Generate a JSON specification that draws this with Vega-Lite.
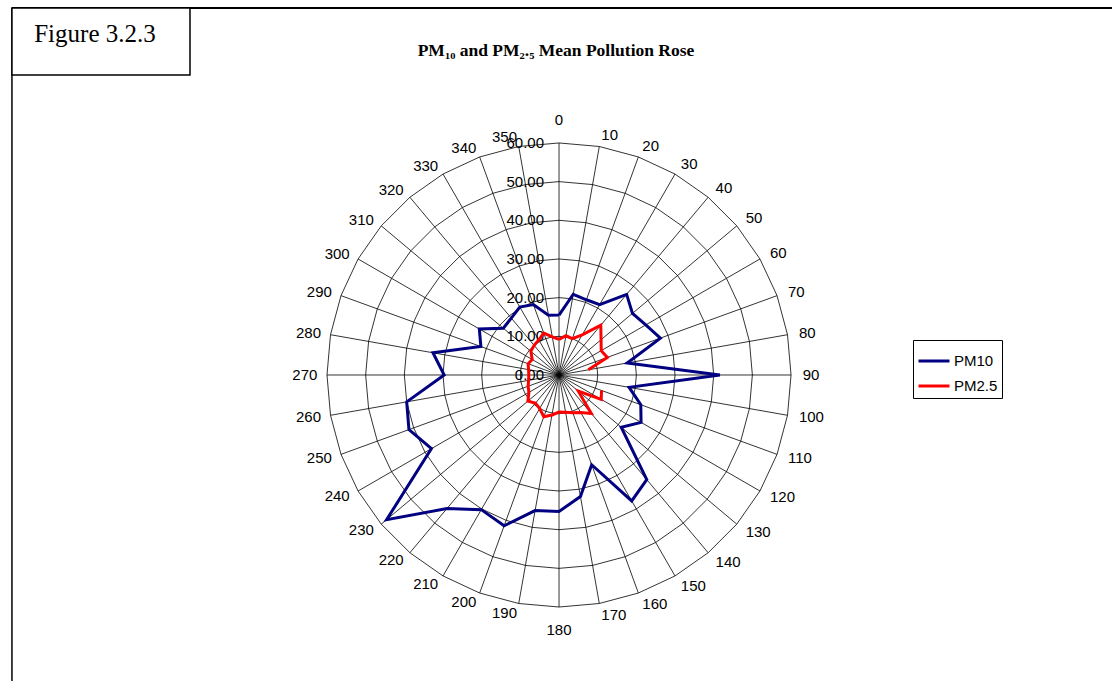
{
  "$schema": "https://vega.github.io/schema/vega-lite/v6.json",
  "width": 1112,
  "height": 681,
  "padding": 0,
  "autosize": {"type": "none"},
  "background": "white",
  "view": {"stroke": null},
  "title": {"text": "PM₁₀ and PM₂.₅ Mean Pollution Rose", "font": "Liberation Serif", "fontSize": 17.5, "fontWeight": "bold", "anchor": "middle", "offset": -59, "color": "black"},
  "config": {
    "legend": {"orient": "none", "legendX": 913, "legendY": 340, "title": null, "symbolType": "stroke", "symbolStrokeWidth": 3, "symbolSize": 961, "labelFont": "Liberation Sans", "labelFontSize": 15, "labelColor": "black", "strokeColor": "black", "fillColor": "white", "padding": 4, "rowPadding": 0, "labelOffset": 3}
  },
  "datasets": {
    "rose": [
      {"angle": 0, "pollutant": "PM10", "value": 15.5},
      {"angle": 10, "pollutant": "PM10", "value": 21.2},
      {"angle": 20, "pollutant": "PM10", "value": 20.7},
      {"angle": 30, "pollutant": "PM10", "value": 21.0},
      {"angle": 40, "pollutant": "PM10", "value": 27.2},
      {"angle": 50, "pollutant": "PM10", "value": 24.8},
      {"angle": 60, "pollutant": "PM10", "value": 25.9},
      {"angle": 70, "pollutant": "PM10", "value": 27.9},
      {"angle": 80, "pollutant": "PM10", "value": 17.9},
      {"angle": 90, "pollutant": "PM10", "value": 41.6},
      {"angle": 100, "pollutant": "PM10", "value": 18.4},
      {"angle": 110, "pollutant": "PM10", "value": 22.5},
      {"angle": 120, "pollutant": "PM10", "value": 24.5},
      {"angle": 130, "pollutant": "PM10", "value": 21.0},
      {"angle": 140, "pollutant": "PM10", "value": 35.3},
      {"angle": 150, "pollutant": "PM10", "value": 37.6},
      {"angle": 160, "pollutant": "PM10", "value": 24.7},
      {"angle": 170, "pollutant": "PM10", "value": 31.9},
      {"angle": 180, "pollutant": "PM10", "value": 35.3},
      {"angle": 190, "pollutant": "PM10", "value": 35.6},
      {"angle": 200, "pollutant": "PM10", "value": 41.5},
      {"angle": 210, "pollutant": "PM10", "value": 40.2},
      {"angle": 220, "pollutant": "PM10", "value": 45.1},
      {"angle": 230, "pollutant": "PM10", "value": 58.2},
      {"angle": 240, "pollutant": "PM10", "value": 38.1},
      {"angle": 250, "pollutant": "PM10", "value": 41.3},
      {"angle": 260, "pollutant": "PM10", "value": 40.0},
      {"angle": 270, "pollutant": "PM10", "value": 29.7},
      {"angle": 280, "pollutant": "PM10", "value": 33.1},
      {"angle": 290, "pollutant": "PM10", "value": 21.5},
      {"angle": 300, "pollutant": "PM10", "value": 23.8},
      {"angle": 310, "pollutant": "PM10", "value": 18.8},
      {"angle": 320, "pollutant": "PM10", "value": 19.2},
      {"angle": 330, "pollutant": "PM10", "value": 20.3},
      {"angle": 340, "pollutant": "PM10", "value": 19.4},
      {"angle": 350, "pollutant": "PM10", "value": 15.7},
      {"angle": 360, "pollutant": "PM10", "value": 15.5},
      {"angle": 0, "pollutant": "PM2.5", "value": 9.2},
      {"angle": 10, "pollutant": "PM2.5", "value": 10.3},
      {"angle": 20, "pollutant": "PM2.5", "value": 10.0},
      {"angle": 30, "pollutant": "PM2.5", "value": 12.0},
      {"angle": 40, "pollutant": "PM2.5", "value": 16.8},
      {"angle": 50, "pollutant": "PM2.5", "value": 14.2},
      {"angle": 60, "pollutant": "PM2.5", "value": 12.6},
      {"angle": 70, "pollutant": "PM2.5", "value": 13.3},
      {"angle": 80, "pollutant": "PM2.5", "value": 7.7},
      {"angle": 90, "pollutant": "PM2.5", "value": null},
      {"angle": 100, "pollutant": "PM2.5", "value": null},
      {"angle": 110, "pollutant": "PM2.5", "value": 11.7},
      {"angle": 120, "pollutant": "PM2.5", "value": 12.6},
      {"angle": 130, "pollutant": "PM2.5", "value": 6.5},
      {"angle": 140, "pollutant": "PM2.5", "value": 13.0},
      {"angle": 150, "pollutant": "PM2.5", "value": 11.2},
      {"angle": 160, "pollutant": "PM2.5", "value": 10.4},
      {"angle": 170, "pollutant": "PM2.5", "value": 9.8},
      {"angle": 180, "pollutant": "PM2.5", "value": 9.6},
      {"angle": 190, "pollutant": "PM2.5", "value": 10.5},
      {"angle": 200, "pollutant": "PM2.5", "value": 11.5},
      {"angle": 210, "pollutant": "PM2.5", "value": 10.0},
      {"angle": 220, "pollutant": "PM2.5", "value": 9.5},
      {"angle": 230, "pollutant": "PM2.5", "value": 10.5},
      {"angle": 240, "pollutant": "PM2.5", "value": 9.0},
      {"angle": 250, "pollutant": "PM2.5", "value": 8.5},
      {"angle": 260, "pollutant": "PM2.5", "value": 8.0},
      {"angle": 270, "pollutant": "PM2.5", "value": 7.8},
      {"angle": 280, "pollutant": "PM2.5", "value": 8.0},
      {"angle": 290, "pollutant": "PM2.5", "value": 8.5},
      {"angle": 300, "pollutant": "PM2.5", "value": 8.0},
      {"angle": 310, "pollutant": "PM2.5", "value": 9.5},
      {"angle": 320, "pollutant": "PM2.5", "value": 10.0},
      {"angle": 330, "pollutant": "PM2.5", "value": 10.5},
      {"angle": 340, "pollutant": "PM2.5", "value": 11.5},
      {"angle": 350, "pollutant": "PM2.5", "value": 10.0},
      {"angle": 360, "pollutant": "PM2.5", "value": 9.2}
    ],
    "rings": [
      {"ring": 10, "angles": [0,10,20,30,40,50,60,70,80,90,100,110,120,130,140,150,160,170,180,190,200,210,220,230,240,250,260,270,280,290,300,310,320,330,340,350,360]},
      {"ring": 20, "angles": [0,10,20,30,40,50,60,70,80,90,100,110,120,130,140,150,160,170,180,190,200,210,220,230,240,250,260,270,280,290,300,310,320,330,340,350,360]},
      {"ring": 30, "angles": [0,10,20,30,40,50,60,70,80,90,100,110,120,130,140,150,160,170,180,190,200,210,220,230,240,250,260,270,280,290,300,310,320,330,340,350,360]},
      {"ring": 40, "angles": [0,10,20,30,40,50,60,70,80,90,100,110,120,130,140,150,160,170,180,190,200,210,220,230,240,250,260,270,280,290,300,310,320,330,340,350,360]},
      {"ring": 50, "angles": [0,10,20,30,40,50,60,70,80,90,100,110,120,130,140,150,160,170,180,190,200,210,220,230,240,250,260,270,280,290,300,310,320,330,340,350,360]},
      {"ring": 60, "angles": [0,10,20,30,40,50,60,70,80,90,100,110,120,130,140,150,160,170,180,190,200,210,220,230,240,250,260,270,280,290,300,310,320,330,340,350,360]}
    ],
    "spokes": [
      {"angle": 0}, {"angle": 10}, {"angle": 20}, {"angle": 30}, {"angle": 40}, {"angle": 50},
      {"angle": 60}, {"angle": 70}, {"angle": 80}, {"angle": 90}, {"angle": 100}, {"angle": 110},
      {"angle": 120}, {"angle": 130}, {"angle": 140}, {"angle": 150}, {"angle": 160}, {"angle": 170},
      {"angle": 180}, {"angle": 190}, {"angle": 200}, {"angle": 210}, {"angle": 220}, {"angle": 230},
      {"angle": 240}, {"angle": 250}, {"angle": 260}, {"angle": 270}, {"angle": 280}, {"angle": 290},
      {"angle": 300}, {"angle": 310}, {"angle": 320}, {"angle": 330}, {"angle": 340}, {"angle": 350}
    ],
    "ticks": [
      {"ring": 0}, {"ring": 10}, {"ring": 20}, {"ring": 30}, {"ring": 40}, {"ring": 50}, {"ring": 60}
    ],
    "one": [{}]
  },
  "layer": [
    {
      "data": {"name": "rings"},
      "transform": [
        {"flatten": ["angles"], "as": ["angle"]},
        {"calculate": "datum.ring * sin(datum.angle * PI / 180)", "as": "x"},
        {"calculate": "datum.ring * cos(datum.angle * PI / 180)", "as": "y"}
      ],
      "mark": {"type": "line", "stroke": "black", "strokeWidth": 0.8},
      "encoding": {
        "x": {"field": "x", "type": "quantitative", "scale": {"domain": [-144.56, 143.0], "nice": false, "zero": false}, "axis": null},
        "y": {"field": "y", "type": "quantitative", "scale": {"domain": [-79.13, 96.97], "nice": false, "zero": false}, "axis": null},
        "detail": {"field": "ring"},
        "order": {"field": "angle", "type": "quantitative"}
      }
    },
    {
      "data": {"name": "spokes"},
      "transform": [
        {"calculate": "60 * sin(datum.angle * PI / 180)", "as": "xe"},
        {"calculate": "60 * cos(datum.angle * PI / 180)", "as": "ye"}
      ],
      "mark": {"type": "rule", "stroke": "black", "strokeWidth": 0.8},
      "encoding": {
        "x": {"field": "xe", "type": "quantitative", "scale": {"domain": [-144.56, 143.0], "nice": false, "zero": false}, "axis": null},
        "y": {"field": "ye", "type": "quantitative", "scale": {"domain": [-79.13, 96.97], "nice": false, "zero": false}, "axis": null},
        "x2": {"datum": 0},
        "y2": {"datum": 0}
      }
    },
    {
      "data": {"name": "ticks"},
      "mark": {"type": "text", "align": "right", "baseline": "middle", "dx": -15, "font": "Liberation Sans", "fontSize": 15, "color": "black"},
      "encoding": {
        "x": {"datum": 0, "type": "quantitative", "scale": {"domain": [-144.56, 143.0], "nice": false, "zero": false}, "axis": null},
        "y": {"field": "ring", "type": "quantitative", "scale": {"domain": [-79.13, 96.97], "nice": false, "zero": false}, "axis": null},
        "text": {"field": "ring", "type": "quantitative", "format": ".2f"}
      }
    },
    {
      "data": {"name": "spokes"},
      "transform": [
        {"filter": "datum.angle > 0 && datum.angle < 180"},
        {"calculate": "63 * sin(datum.angle * PI / 180)", "as": "x"},
        {"calculate": "63 * cos(datum.angle * PI / 180)", "as": "y"}
      ],
      "mark": {"type": "text", "align": "left", "baseline": "middle", "font": "Liberation Sans", "fontSize": 15, "color": "black"},
      "encoding": {
        "x": {"field": "x", "type": "quantitative", "scale": {"domain": [-144.56, 143.0], "nice": false, "zero": false}, "axis": null},
        "y": {"field": "y", "type": "quantitative", "scale": {"domain": [-79.13, 96.97], "nice": false, "zero": false}, "axis": null},
        "text": {"field": "angle", "type": "nominal"}
      }
    },
    {
      "data": {"name": "spokes"},
      "transform": [
        {"filter": "datum.angle > 180"},
        {"calculate": "62.5 * sin(datum.angle * PI / 180)", "as": "x"},
        {"calculate": "62.5 * cos(datum.angle * PI / 180)", "as": "y"}
      ],
      "mark": {"type": "text", "align": "right", "baseline": "middle", "font": "Liberation Sans", "fontSize": 15, "color": "black"},
      "encoding": {
        "x": {"field": "x", "type": "quantitative", "scale": {"domain": [-144.56, 143.0], "nice": false, "zero": false}, "axis": null},
        "y": {"field": "y", "type": "quantitative", "scale": {"domain": [-79.13, 96.97], "nice": false, "zero": false}, "axis": null},
        "text": {"field": "angle", "type": "nominal"}
      }
    },
    {
      "data": {"name": "spokes"},
      "transform": [
        {"filter": "datum.angle == 0 || datum.angle == 180"},
        {"calculate": "66 * sin(datum.angle * PI / 180)", "as": "x"},
        {"calculate": "66 * cos(datum.angle * PI / 180)", "as": "y"}
      ],
      "mark": {"type": "text", "align": "center", "baseline": "middle", "font": "Liberation Sans", "fontSize": 15, "color": "black"},
      "encoding": {
        "x": {"field": "x", "type": "quantitative", "scale": {"domain": [-144.56, 143.0], "nice": false, "zero": false}, "axis": null},
        "y": {"field": "y", "type": "quantitative", "scale": {"domain": [-79.13, 96.97], "nice": false, "zero": false}, "axis": null},
        "text": {"field": "angle", "type": "nominal"}
      }
    },
    {
      "data": {"name": "rose"},
      "transform": [
        {"calculate": "datum.value == null ? null : datum.value * sin(datum.angle * PI / 180)", "as": "x"},
        {"calculate": "datum.value == null ? null : datum.value * cos(datum.angle * PI / 180)", "as": "y"}
      ],
      "mark": {"type": "line", "strokeWidth": 3, "invalid": "break-paths-show-domains"},
      "encoding": {
        "x": {"field": "x", "type": "quantitative", "scale": {"domain": [-144.56, 143.0], "nice": false, "zero": false}, "axis": null},
        "y": {"field": "y", "type": "quantitative", "scale": {"domain": [-79.13, 96.97], "nice": false, "zero": false}, "axis": null},
        "color": {"field": "pollutant", "type": "nominal", "scale": {"domain": ["PM10", "PM2.5"], "range": ["#000080", "#FF0000"]}},
        "order": {"field": "angle", "type": "quantitative"}
      }
    },
    {
      "data": {"name": "one"},
      "mark": {"type": "rule", "stroke": "black", "strokeWidth": 2},
      "encoding": {
        "x": {"datum": -141.47, "type": "quantitative", "scale": {"domain": [-144.56, 143.0], "nice": false, "zero": false}, "axis": null},
        "x2": {"datum": 143.5},
        "y": {"datum": 94.91, "type": "quantitative", "scale": {"domain": [-79.13, 96.97], "nice": false, "zero": false}, "axis": null}
      }
    },
    {
      "data": {"name": "one"},
      "mark": {"type": "rule", "stroke": "black", "strokeWidth": 1.5},
      "encoding": {
        "x": {"datum": -141.47, "type": "quantitative", "scale": {"domain": [-144.56, 143.0], "nice": false, "zero": false}, "axis": null},
        "y": {"datum": 94.91, "type": "quantitative", "scale": {"domain": [-79.13, 96.97], "nice": false, "zero": false}, "axis": null},
        "y2": {"datum": -80}
      }
    },
    {
      "data": {"name": "one"},
      "mark": {"type": "rect", "fill": "white", "stroke": "black", "strokeWidth": 1.5},
      "encoding": {
        "x": {"datum": -141.47, "type": "quantitative", "scale": {"domain": [-144.56, 143.0], "nice": false, "zero": false}, "axis": null},
        "x2": {"datum": -95.43},
        "y": {"datum": 94.91, "type": "quantitative", "scale": {"domain": [-79.13, 96.97], "nice": false, "zero": false}, "axis": null},
        "y2": {"datum": 77.59}
      }
    },
    {
      "data": {"name": "one"},
      "mark": {"type": "text", "align": "center", "baseline": "alphabetic", "font": "Liberation Serif", "fontSize": 25, "color": "black"},
      "encoding": {
        "x": {"datum": -120.0, "type": "quantitative", "scale": {"domain": [-144.56, 143.0], "nice": false, "zero": false}, "axis": null},
        "y": {"datum": 86.2, "type": "quantitative", "scale": {"domain": [-79.13, 96.97], "nice": false, "zero": false}, "axis": null},
        "text": {"value": "Figure 3.2.3"}
      }
    }
  ]
}
